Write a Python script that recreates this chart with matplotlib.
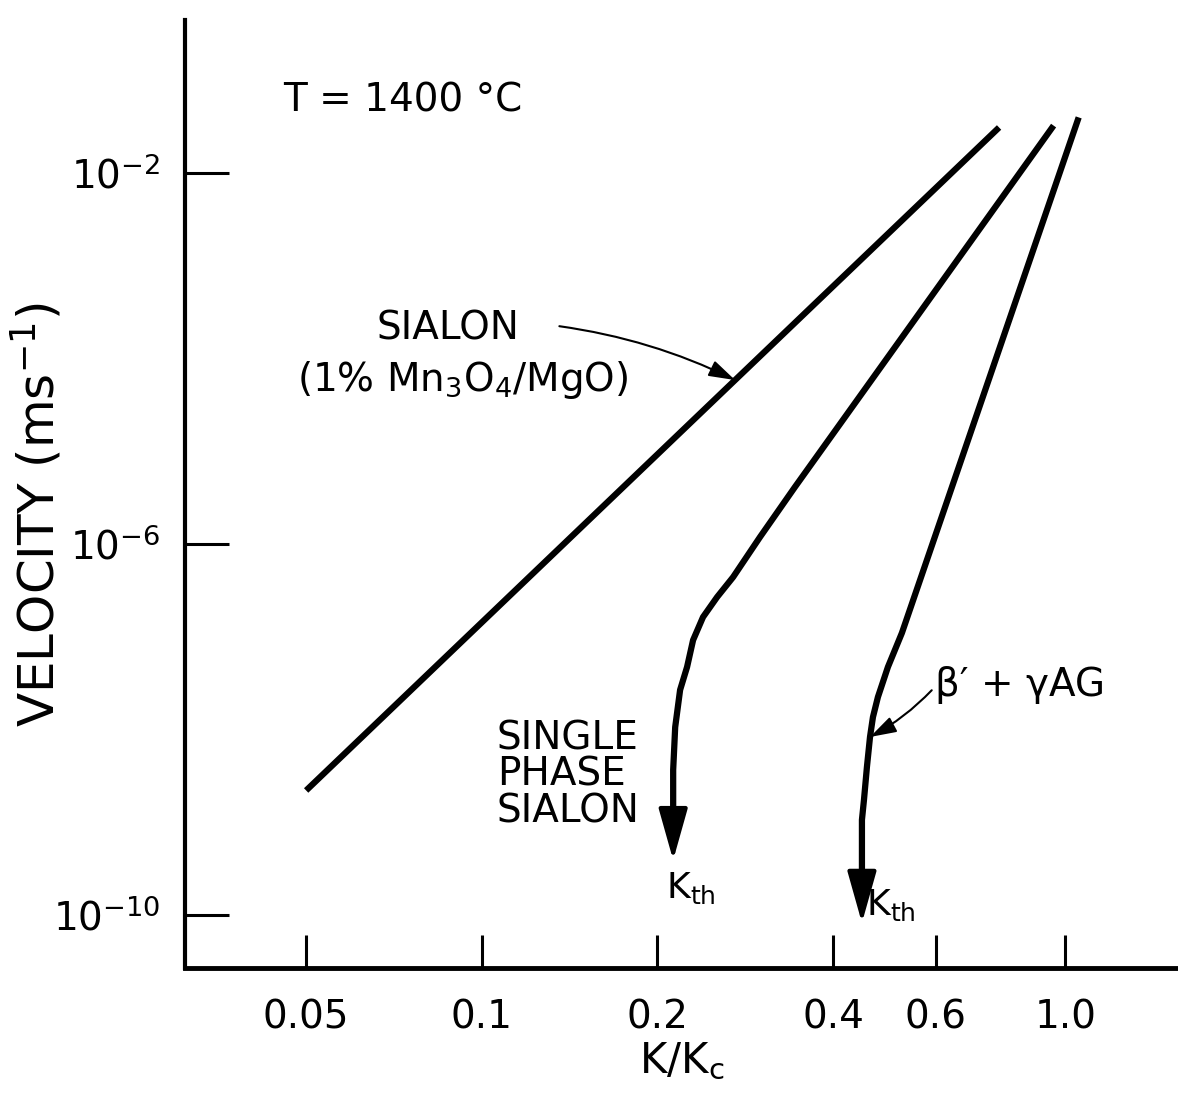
import numpy as np
import matplotlib
matplotlib.use('Agg')
import matplotlib.pyplot as plt

# crack velocity vs K/Kc at 1400 C
sialon_mn_k = [0.050, 0.77]
sialon_mn_v = [2.2e-9, 3.1e-2]

single_k = [0.948, 0.3441, 0.2998, 0.2696, 0.2531, 0.2394, 0.2302, 0.2248, 0.2187, 0.2145, 0.2128, 0.2128]
single_v = [3.05e-2, 4.12e-6, 1.19e-6, 4.40e-7, 2.68e-7, 1.63e-7, 9.2e-8, 4.72e-8, 2.67e-8, 1.06e-8, 3.66e-9, 1.36e-9]
single_kth_v = 3.9e-10

byag_k = [1.05, 0.5248, 0.4966, 0.4774, 0.4681, 0.4627, 0.4571, 0.4518, 0.4482, 0.4482]
byag_v = [3.7e-2, 1.10e-7, 4.72e-8, 2.24e-8, 1.36e-8, 8.3e-9, 3.94e-9, 1.74e-9, 1.06e-9, 2.57e-10]
byag_kth_v = 8.2e-11

x_ticks = [0.05, 0.1, 0.2, 0.4, 0.6, 1.0]
x_labels = ['0.05', '0.1', '0.2', '0.4', '0.6', '1.0']
y_ticks = [1e-2, 1e-6, 1e-10]
y_labels = ['$10^{-2}$', '$10^{-6}$', '$10^{-10}$']

plt.rcParams['font.family'] = ['DejaVu Sans']
plt.rcParams['mathtext.fontset'] = 'dejavusans'

fig = plt.figure(figsize=(11.78, 11.07), dpi=100)
ax = fig.add_axes([185 / 1178, 139 / 1107, 993 / 1178, 948 / 1107])
ax.set_xscale('log')
ax.set_yscale('log')
ax.set_xlim(0.0310, 1.56)
ax.set_ylim(2.68e-11, 0.447)

for s in ['top', 'right']:
    ax.spines[s].set_visible(False)
ax.spines['left'].set_linewidth(3)
ax.spines['bottom'].set_linewidth(3.5)

ax.set_xticks(x_ticks)
ax.set_xticklabels(x_labels)
ax.set_yticks(y_ticks)
ax.set_yticklabels(y_labels)
ax.minorticks_off()
ax.tick_params(axis='x', direction='in', length=24, width=2.2, pad=22, labelsize=28)
ax.tick_params(axis='y', direction='in', length=32, width=2.2, pad=18, labelsize=28)

lw = 4.5
ax.plot(sialon_mn_k, sialon_mn_v, color='black', lw=lw, solid_capstyle='butt')
ax.plot(single_k, single_v, color='black', lw=lw, solid_joinstyle='round')
ax.plot(byag_k, byag_v, color='black', lw=lw, solid_joinstyle='round')

head = dict(arrowstyle='-|>,head_length=1.6,head_width=0.45', mutation_scale=20,
            lw=3, color='black', shrinkA=0, shrinkB=0)
ax.annotate('', xy=(single_k[-1], single_kth_v), xytext=(single_k[-1], single_v[-1]), arrowprops=head)
ax.annotate('', xy=(byag_k[-1], byag_kth_v), xytext=(byag_k[-1], byag_v[-1]), arrowprops=head)

# labels
ax.text(0.0987, 0.9156, 'T = 1400 °C', transform=ax.transAxes, fontsize=28, va='center')
ax.text(0.265, 0.675, 'SIALON', transform=ax.transAxes, fontsize=28, ha='center', va='center')
ax.text(0.28, 0.62, '(1% Mn$_3$O$_4$/MgO)', transform=ax.transAxes, fontsize=28, ha='center', va='center')
ax.text(0.314, 0.2036, 'SINGLE\nPHASE\nSIALON', transform=ax.transAxes, fontsize=28,
        ha='left', va='center', linespacing=0.95)
ax.text(0.484, 0.084, r'K$_{\mathrm{th}}$', transform=ax.transAxes, fontsize=26, va='center')
ax.text(0.686, 0.066, r'K$_{\mathrm{th}}$', transform=ax.transAxes, fontsize=26, va='center')
ax.text(0.755, 0.2985, "β′ + γAG", transform=ax.transAxes, fontsize=28, va='center')

# leaders pointing at the curves
k_tgt = 0.2717
v_tgt = 10 ** np.interp(np.log10(k_tgt), np.log10(sialon_mn_k), np.log10(sialon_mn_v))
thin = dict(arrowstyle='-|>,head_length=0.8,head_width=0.25', mutation_scale=20,
            lw=1.5, color='black', shrinkA=0, shrinkB=0, connectionstyle='arc3,rad=-0.08')
ax.annotate('', xy=(k_tgt, v_tgt), xytext=(0.377, 0.677), textcoords='axes fraction', arrowprops=thin)
ax.annotate('', xy=(byag_k[5], byag_v[5]), xytext=(0.752, 0.293), textcoords='axes fraction', arrowprops=thin)

ax.set_xlabel('K/K$_\\mathrm{c}$', fontsize=30)
ax.xaxis.set_label_coords(0.5, -0.076)
ax.set_ylabel('VELOCITY (ms$^{-1}$)', fontsize=36)
ax.yaxis.set_label_coords(-0.121, 0.478)

fig.savefig('out.png', dpi=100)
